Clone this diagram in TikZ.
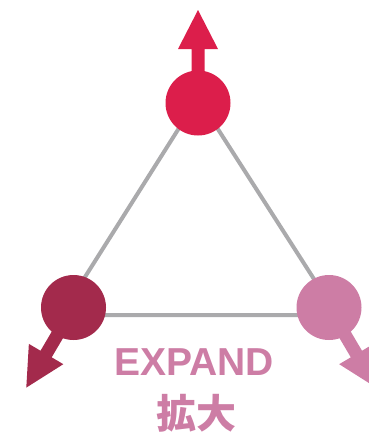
\documentclass[tikz,border=0pt]{standalone}
\usepackage{fontspec}
\setmainfont{Liberation Sans}
\newfontfamily\cjkfont{Noto Sans CJK JP}
\usepackage{tikz}

\definecolor{topred}{RGB}{220,30,75}
\definecolor{leftred}{RGB}{163,42,76}
\definecolor{rightpink}{RGB}{205,125,165}
\definecolor{edgegray}{RGB}{170,170,172}

% arrow leaving a ball: #1 = centre, #2 = angle, #3 = colour
\newcommand{\ballarrow}[3]{%
\fill [#3, shift={(#1)}, rotate=#2] (0,-6.5) -- (54,-6.5) -- (54,-20) -- (93,0) -- (54,20) -- (54,6.5) -- (0,6.5) -- cycle;}

\begin{document}
\begin{tikzpicture}[x=1pt,y=-1pt]
\tikzstyle{ball}=[circle, inner sep=0pt, minimum size=65pt]
\tikzstyle{edge}=[edgegray, line width=4pt]
\useasboundingbox (0,0) rectangle (368,432);
% triangle corners and ball centres
\coordinate (vt) at (198,98);
\coordinate (vl) at (61,315);
\coordinate (vr) at (337,315);
\coordinate (ct) at (198,103);
\coordinate (cl) at (73.5,307.5);
\coordinate (cr) at (329,307.5);
\draw [edge] (vt) -- (vl) -- (vr) -- cycle;
\ballarrow{ct}{90}{topred}
\ballarrow{cl}{239.5}{leftred}
\ballarrow{cr}{300.5}{rightpink}
\node [ball, fill=topred] (top) at (ct) {};
\node [ball, fill=leftred] (left) at (cl) {};
\node [ball, fill=rightpink] (right) at (cr) {};
\node [anchor=base, inner sep=0pt, text=rightpink, font=\fontsize{39}{39}\selectfont\bfseries] (expand) at (194,375) {EXPAND};
\node [inner sep=0pt, text=rightpink, font=\fontsize{40}{40}\selectfont\cjkfont\bfseries] (kakudai) at (196,413) {拡大};
\end{tikzpicture}
\end{document}
